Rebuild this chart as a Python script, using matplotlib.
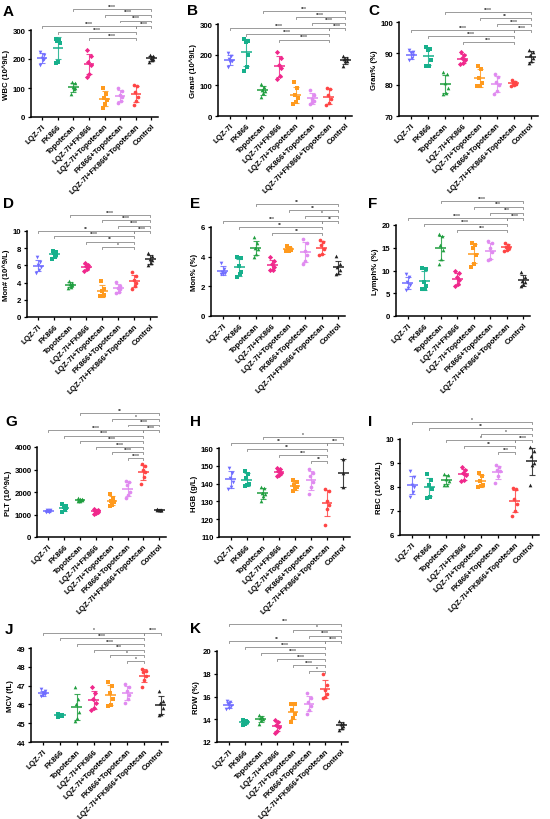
import matplotlib
matplotlib.use('Agg')
import matplotlib.pyplot as plt
import numpy as np

plt.rcParams['font.family'] = ['Liberation Sans', 'DejaVu Sans']
plt.rcParams['font.weight'] = 'bold'
plt.rcParams['axes.labelweight'] = 'bold'

groups = ["LQZ-7I", "FK866", "Topotecan", "LQZ-7I+FK866", "LQZ-7I+Topotecan",
          "FK866+Topotecan", "LQZ-7I+FK866+Topotecan", "Control"]
colors = ["#6f6cff", "#17b08c", "#1f9e3f", "#f0288c", "#ff9a1e", "#e08af0", "#ff4545", "#222222"]
markers = ["v", "s", "^", "D", "s", "o", "o", "^"]

# ---- data ----
wbc = [[225, 215, 205, 200, 195, 178], [270, 265, 262, 255, 190, 185], [120, 118, 105, 100, 95, 78],
       [230, 210, 190, 180, 150, 138], [100, 80, 65, 60, 45, 32], [100, 90, 75, 70, 55, 50],
       [110, 108, 85, 70, 55, 42], [215, 210, 205, 200, 195, 190]]
gran_n = [[205, 195, 185, 180, 175, 160], [250, 245, 240, 200, 160, 148], [105, 95, 85, 80, 75, 62],
          [210, 190, 165, 155, 130, 120], [110, 90, 70, 60, 45, 40], [85, 70, 55, 50, 45, 40],
          [90, 88, 70, 55, 42, 35], [195, 190, 185, 180, 178, 162]]
gran_p = [[91.2, 90.5, 90, 89.5, 88.5, 87.8], [92, 91.5, 91, 88, 86, 85.8], [84, 83.5, 80.5, 79, 77.5, 77],
          [90.5, 89.5, 88.5, 88, 87, 86.5], [86, 85, 82, 80.5, 79.5, 79.5], [83.5, 82.5, 81, 80, 78, 77],
          [81.5, 81, 80.5, 80.3, 80, 79.5], [91, 90.5, 89.5, 88.5, 87.5, 86.8]]
mon_n = [[7.0, 6.4, 6.0, 5.8, 5.5, 5.1], [7.7, 7.6, 7.4, 7.2, 7.0, 6.8], [4.2, 4.0, 3.8, 3.7, 3.5, 3.4],
         [6.3, 6.1, 5.9, 5.8, 5.6, 5.4], [4.2, 3.3, 3.0, 2.6, 2.4, 2.4], [4.1, 3.6, 3.4, 3.2, 2.9, 2.8],
         [5.2, 4.8, 4.3, 4.0, 3.6, 3.3], [7.4, 7.1, 6.8, 6.6, 6.3, 6.0]]
mon_p = [[3.6, 3.2, 3.0, 2.9, 2.85, 2.8], [4.0, 3.9, 3.4, 3.0, 2.8, 2.6], [5.3, 4.9, 4.6, 4.5, 4.2, 4.0],
         [4.0, 3.7, 3.5, 3.3, 3.1, 3.1], [4.7, 4.6, 4.5, 4.45, 4.4, 4.4], [5.2, 4.9, 4.4, 4.1, 3.7, 3.5],
         [5.1, 5.0, 4.8, 4.5, 4.2, 4.1], [4.05, 3.5, 3.3, 3.1, 2.9, 2.8]]
lymph_p = [[9.2, 8.5, 7.5, 6.8, 6.2, 5.8], [10.5, 10.3, 7.5, 6.5, 6.0, 6.0], [18, 17.5, 15.5, 14.5, 12.5, 11.5],
           [9.8, 9.5, 8.5, 8.0, 7.0, 6.5], [16, 15.5, 15, 13.5, 11.5, 10.8], [16.5, 16, 15, 14, 12.5, 12.3],
           [16, 15.7, 15.2, 15, 14.5, 14.3], [9.7, 8.5, 7.8, 7.5, 7.0, 6.5]]
plt_v = [[1220, 1200, 1160, 1140, 1110, 1090], [1450, 1380, 1320, 1280, 1200, 1130],
         [1720, 1700, 1670, 1650, 1620, 1580], [1260, 1200, 1150, 1120, 1060, 1020],
         [1900, 1750, 1620, 1550, 1430, 1400], [2480, 2450, 2300, 2000, 1850, 1750],
         [3250, 3150, 3000, 2900, 2650, 2350], [1230, 1220, 1210, 1200, 1190, 1180]]
hgb = [[149, 146, 143, 141, 138, 137], [147, 145.5, 143, 140, 139, 138.5], [138, 137.5, 135, 134, 133, 130],
       [149, 148, 147, 146, 145, 144], [142, 141, 139, 138, 137, 136], [148, 146, 144, 141, 138, 134],
       [137, 136, 130, 128, 126, 117], [154, 146, 138]]
rbc = [[8.65, 8.4, 8.1, 8.0, 7.8, 7.6], [8.55, 8.3, 8.1, 7.9, 7.6, 7.55], [8.55, 8.5, 8.35, 8.25, 8.1, 8.08],
       [8.85, 8.7, 8.6, 8.5, 8.3, 8.25], [8.6, 8.45, 8.25, 8.1, 8.05, 8.0], [8.9, 8.85, 8.7, 8.65, 8.45, 8.15],
       [7.95, 7.9, 7.5, 7.3, 7.0, 6.8], [9.65, 9.5, 9.3, 9.0, 8.9, 8.1]]
mcv = [[46.8, 46.7, 46.6, 46.55, 46.5, 46.45], [45.5, 45.45, 45.42, 45.4, 45.38, 45.35],
       [46.9, 46.3, 46.0, 45.6, 45.3, 45.1], [46.9, 46.6, 46.3, 46.1, 45.8, 45.7],
       [47.2, 47.0, 46.6, 46.3, 45.95, 45.9], [47.1, 46.9, 46.7, 46.5, 46.3, 46.1],
       [47.9, 47.8, 47.7, 47.5, 47.3, 46.95], [46.7, 46.2, 46.1, 45.8, 45.5, 45.45]]
rdw = [[15.6, 15.5, 15.3, 15.2, 15.0, 14.9], [13.9, 13.85, 13.8, 13.75, 13.6, 13.5],
       [14.35, 14.2, 14.1, 14.0, 13.9, 13.55], [13.9, 13.8, 13.5, 13.3, 13.0, 12.75],
       [15.35, 15.3, 14.8, 14.5, 14.1, 13.8], [16.3, 15.9, 15.5, 15.2, 14.8, 14.5],
       [18.0, 17.0, 16.6, 16.2, 16.0, 15.9], [13.85, 13.7, 13.55, 13.4, 13.2, 13.05]]

# significance brackets: (group i, group j, stars, stack level)
wbc_sig = [(3, 6, "****", 0), (1, 6, "****", 1), (0, 6, "****", 2), (6, 7, "****", 2),
           (5, 7, "****", 3), (4, 7, "****", 4), (2, 7, "****", 5)]
gran_n_sig = [(3, 6, "****", 0), (1, 6, "****", 1), (0, 6, "****", 2), (6, 7, "****", 2),
              (5, 7, "****", 3), (4, 7, "****", 4), (2, 7, "***", 5)]
gran_p_sig = [(3, 6, "***", 0), (1, 6, "****", 1), (0, 6, "****", 2), (6, 7, "****", 2),
              (5, 7, "****", 3), (4, 7, "**", 4), (2, 7, "****", 5)]
mon_n_sig = [(4, 6, "*", 0), (3, 6, "**", 1), (1, 6, "****", 2), (0, 6, "**", 3), (6, 7, "****", 3),
             (5, 7, "****", 4), (4, 7, "****", 5), (2, 7, "****", 6)]
mon_p_sig = [(3, 6, "**", 0), (1, 6, "**", 1), (0, 6, "***", 2), (6, 7, "**", 2),
             (5, 7, "*", 3), (4, 7, "**", 4), (2, 7, "**", 5)]
lymph_p_sig = [(3, 6, "***", 0), (1, 6, "****", 1), (0, 6, "****", 2), (6, 7, "****", 2),
               (5, 7, "***", 3), (4, 7, "***", 4), (2, 7, "****", 5)]
plt_sig = [(5, 6, "****", 0), (4, 6, "****", 1), (3, 6, "****", 2), (2, 6, "****", 3), (1, 6, "****", 4),
           (0, 6, "****", 5), (6, 7, "****", 5), (5, 7, "****", 6), (4, 7, "*", 7), (2, 7, "**", 8)]
hgb_sig = [(5, 6, "**", 0), (3, 6, "***", 1), (1, 6, "**", 2), (0, 6, "**", 3), (6, 7, "***", 3),
           (2, 7, "*", 4)]
rbc_sig = [(5, 6, "***", 0), (3, 6, "**", 1), (2, 6, "*", 2), (6, 7, "****", 2),
           (4, 7, "*", 3), (1, 7, "**", 4), (0, 7, "*", 5)]
mcv_sig = [(5, 6, "*", 0), (4, 6, "*", 1), (3, 6, "***", 2), (2, 6, "****", 3), (1, 6, "****", 4),
           (0, 6, "*", 5), (6, 7, "****", 5)]
rdw_sig = [(5, 6, "*", 0), (4, 6, "****", 1), (3, 6, "****", 2), (2, 6, "****", 3), (1, 6, "****", 4),
           (0, 6, "**", 5), (6, 7, "****", 5), (5, 7, "****", 6), (4, 7, "*", 7), (0, 7, "***", 8)]

W, H = 550, 820
fig = plt.figure(figsize=(W / 100, H / 100), dpi=100)

panels = [
    ("A", wbc, "WBC (10^9/L)", [0, 100, 200, 300], wbc_sig, (31, 31, 158, 118), 0.908, 0.067, (3, 5)),
    ("B", gran_n, "Gran# (10^9/L)", [0, 100, 200, 300], gran_n_sig, (218, 25, 352, 117), 0.83, 0.062, (187, 4)),
    ("C", gran_p, "Gran% (%)", [70, 80, 90, 100], gran_p_sig, (399, 23, 538, 117), 0.787, 0.064, (368, 4)),
    ("D", mon_n, "Mon# (10^9/L)", [0, 2, 4, 6, 8, 10], mon_n_sig, (27, 232, 157, 318), 0.814, 0.062, (3, 197)),
    ("E", mon_p, "Mon% (%)", [0, 2, 4, 6], mon_p_sig, (211, 228, 345, 317), 0.933, 0.065, (190, 197)),
    ("F", lymph_p, "Lymph% (%)", [0, 5, 10, 15, 20], lymph_p_sig, (396, 226, 530, 317), 0.945, 0.064, (368, 197)),
    ("G", plt_v, "PLT (10^9/L)", [0, 1000, 2000, 3000, 4000], plt_sig, (37, 448, 166, 538), 0.878, 0.062, (5, 415)),
    ("H", hgb, "HGB (g/L)", [110, 120, 130, 140, 150, 160], hgb_sig, (219, 449, 350, 538), 0.854, 0.067, (190, 415)),
    ("I", rbc, "RBC (10^12/L)", [6, 7, 8, 9, 10], rbc_sig, (400, 440, 539, 536), 0.865, 0.0625, (368, 415)),
    ("J", mcv, "MCV (fL)", [44, 45, 46, 47, 48, 49], mcv_sig, (31, 649, 168, 743), 0.862, 0.06, (5, 623)),
    ("K", rdw, "RDW (%)", [12, 14, 16, 18, 20], rdw_sig, (217, 652, 348, 743), 0.78, 0.065, (190, 622)),
]

jitter = [-0.13, 0.11, -0.04, 0.14, 0.02, -0.15]

for letter, data, ylabel, yticks, sig, (x0, y0, x1, y1), base, step, (lx, ly) in panels:
    ax = fig.add_axes([x0 / W, 1 - y1 / H, (x1 - x0) / W, (y1 - y0) / H])
    for gi, vals in enumerate(data):
        v = np.array(vals, dtype=float)
        xs = gi + np.array(jitter[:len(v)]) * (0.9 if len(v) > 3 else 0.0)
        ax.scatter(xs, v, s=7, marker=markers[gi], color=colors[gi], linewidths=0, zorder=3)
        m = v.mean()
        sd = v.std(ddof=1)
        ax.plot([gi - 0.33, gi + 0.33], [m, m], color=colors[gi], lw=1.1, zorder=4, solid_capstyle='butt')
        ax.errorbar([gi], [m], yerr=[sd], color=colors[gi], lw=0.8, capsize=2.2, capthick=0.8,
                    fmt='none', zorder=4, alpha=0.85)
    ax.set_xlim(-0.72, 7.42)
    ax.set_ylim(yticks[0], yticks[-1])
    ax.set_yticks(yticks)
    ax.set_xticks(range(len(groups)))
    ax.set_xticklabels(groups, rotation=45, ha='right', rotation_mode='anchor', fontsize=5.6,
                       fontweight='bold')
    ax.tick_params(axis='y', labelsize=5.6, length=2.5, width=0.9, pad=1.5)
    ax.tick_params(axis='x', length=2.5, width=0.9, pad=1.5)
    for lab in ax.get_yticklabels():
        lab.set_fontweight('bold')
    ax.set_ylabel(ylabel, fontsize=5.6, fontweight='bold', labelpad=2)
    for s in ['top', 'right']:
        ax.spines[s].set_visible(False)
    for s in ['left', 'bottom']:
        ax.spines[s].set_linewidth(1.1)
    tr = ax.get_xaxis_transform()
    for i, j, stars, lev in sig:
        yb = base + lev * step
        ax.plot([i, i, j, j], [yb - 0.022, yb, yb, yb - 0.022], transform=tr, color='#8a8a8a',
                lw=0.6, clip_on=False, zorder=5)
        ax.text((i + j) / 2, yb + 0.004, stars, transform=tr, ha='center', va='bottom',
                fontsize=3.6, color='#555555', clip_on=False)
    fig.text(lx / W, 1 - ly / H, letter, fontsize=11, fontweight='bold', ha='left', va='top')

fig.savefig("out.png", dpi=100)
